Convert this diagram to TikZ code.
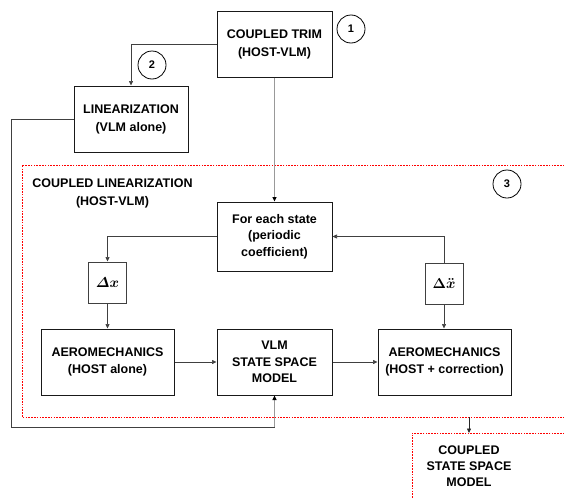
\documentclass[tikz,border=0pt]{standalone}
\usepackage{amsmath}
\usepackage{bm}
\usepackage[no-math]{fontspec}
\setmainfont{Liberation Sans}
\usetikzlibrary{arrows.meta}
\begin{document}
\begin{tikzpicture}[x=1pt,y=-1pt,
  box/.style={draw=black!90,line width=1pt,rectangle,align=center,font=\bfseries\fontsize{12.5}{16.5}\selectfont,inner sep=0pt},
  smallbox/.style={draw=black!75,line width=1pt,rectangle,align=center,inner sep=0pt,minimum width=38pt,minimum height=41pt,font=\fontsize{14}{16}\selectfont},
  num/.style={draw=black,line width=0.8pt,circle,minimum size=28pt,inner sep=0pt,font=\bfseries\fontsize{11}{13}\selectfont},
  conn/.style={draw=black!75,line width=0.7pt,-{Triangle[length=4.5pt,width=4pt]}},
  gconn/.style={draw=black!40,line width=1.3pt,-{Triangle[length=4.5pt,width=4pt,color=black]}},
  reddot/.style={draw=red,line width=0.9pt,dash pattern=on 1.6pt off 1.2pt},
  lbl/.style={align=center,font=\bfseries\fontsize{12.5}{18}\selectfont,inner sep=0pt}]
\useasboundingbox (0,0) rectangle (564,498);
% boxes
\node[box,minimum width=115pt,minimum height=66pt,font=\bfseries\fontsize{12.5}{18}\selectfont] (trim) at (274.5,44) {COUPLED TRIM\\(HOST-VLM)};
\node[box,minimum width=114pt,minimum height=66pt,font=\bfseries\fontsize{12.5}{18}\selectfont] (lin) at (131,119) {LINEARIZATION\\(VLM alone)};
\node[box,minimum width=115pt,minimum height=69pt] (fe) at (274.5,236.5) {For each state\\(periodic\\coefficient)};
\node[smallbox] (dx) at (107.5,282.5) {$\bm{\varDelta x}$};
\node[smallbox] (ddx) at (444,283.5) {$\bm{\Delta\ddot{x}}$};
\node[box,minimum width=133pt,minimum height=66pt] (a1) at (107.5,362) {AEROMECHANICS\\(HOST alone)};
\node[box,minimum width=115pt,minimum height=66pt] (vlm) at (274.5,362) {VLM\\STATE SPACE\\MODEL};
\node[box,minimum width=133pt,minimum height=66pt] (a2) at (444.5,362) {AEROMECHANICS\\(HOST + correction)};
% numbers
\node[num] (n1) at (351,29) {1};
\node[num] (n2) at (152,65) {2};
\node[num] (n3) at (507,184) {3};
% labels
\node[lbl] (cl) at (112.5,193) {COUPLED LINEARIZATION\\(HOST-VLM)};
\node[lbl,font=\bfseries\fontsize{12.5}{16}\selectfont] (cssm) at (469,466) {COUPLED\\STATE SPACE\\MODEL};
% red dotted regions
\coordinate (r1a) at (570,165);
\coordinate (r1b) at (22,165);
\coordinate (r1c) at (22,417);
\coordinate (r1d) at (570,417);
\draw[reddot] (r1a) -- (r1b) -- (r1c) -- (r1d);
\coordinate (r2a) at (570,433);
\coordinate (r2b) at (412,433);
\coordinate (r2c) at (412,500);
\draw[reddot] (r2a) -- (r2b) -- (r2c);
\coordinate (o1) at (469,417);
\coordinate (o2) at (469,433);
\draw[conn,draw=black!85] (o1) -- (o2);
% connectors
\draw[conn] (trim.west) -| (lin.north);
\draw[gconn] (trim.south) -- (fe.north);
\coordinate (l1) at (11,427);
\coordinate (l2) at (274.5,427);
\draw[draw=black!75,line width=0.7pt] (lin.west) -| (l1) -- (l2);
\draw[gconn,line width=1pt] (l2) -- (vlm.south);
\draw[conn] (fe.west) -| (dx.north);
\draw[conn] (dx.south) -- (a1.north -| dx.south);
\draw[conn] (a1.east) -- (vlm.west);
\draw[conn] (vlm.east) -- (a2.west);
\draw[conn] (ddx.north) |- (fe.east);
\draw[conn] (ddx.south) -- (a2.north -| ddx.south);
\end{tikzpicture}
\end{document}
